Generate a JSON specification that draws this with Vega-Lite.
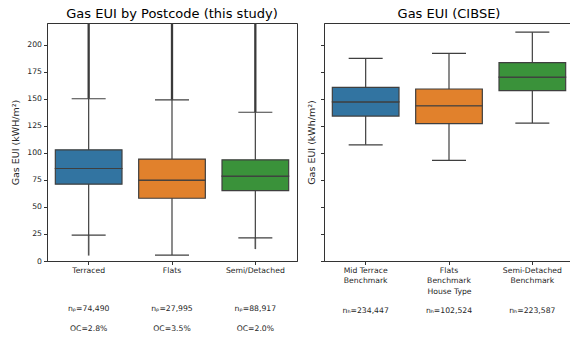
{
  "$schema": "https://vega.github.io/schema/vega-lite/v6.json",
  "padding": {"left": 10, "top": 7, "right": 0, "bottom": 0},
  "background": "white",
  "config": {
    "font": "DejaVu Sans",
    "view": {"stroke": "#333333", "strokeWidth": 1},
    "axis": {
      "grid": false,
      "domainColor": "#333333",
      "tickColor": "#333333",
      "labelColor": "#262626",
      "titleColor": "#262626",
      "labelFont": "DejaVu Sans",
      "titleFont": "DejaVu Sans",
      "labelFontSize": 7.7,
      "titleFontSize": 9.5,
      "titleFontWeight": "normal",
      "tickSize": 3.5,
      "labelPadding": 2,
      "labelOverlap": false
    },
    "title": {"fontSize": 13, "fontWeight": "normal", "color": "#000000", "font": "DejaVu Sans", "offset": 2}
  },
  "datasets": {
    "study": [
      {"type": "Terraced", "lower": 24, "q1": 71, "median": 85.5, "q3": 102.8, "upper": 150, "outLo": 5, "outHi": 240},
      {"type": "Flats", "lower": 5.5, "q1": 58, "median": 74.8, "q3": 94.2, "upper": 149, "outLo": 5.5, "outHi": 240},
      {"type": "Semi/Detached", "lower": 21.3, "q1": 65, "median": 78.5, "q3": 93.5, "upper": 137.5, "outLo": 11, "outHi": 240}
    ],
    "cibse": [
      {"type": "Mid Terrace Benchmark", "lower": 107.4, "q1": 134, "median": 147, "q3": 160.5, "upper": 187.3},
      {"type": "Flats Benchmark", "lower": 93, "q1": 127, "median": 143.5, "q3": 159, "upper": 192},
      {"type": "Semi-Detached Benchmark", "lower": 127.5, "q1": 157.4, "median": 170, "q3": 183.3, "upper": 211.5}
    ]
  },
  "spacing": 7,
  "hconcat": [
    {
      "title": "Gas EUI by Postcode (this study)",
      "width": 250,
      "height": 238,
      "data": {"name": "study"},
      "encoding": {
        "x": {
          "field": "type", "type": "nominal",
          "sort": ["Terraced", "Flats", "Semi/Detached"],
          "scale": {"type": "band", "paddingInner": 0, "paddingOuter": 0},
          "axis": {
            "title": null, "labelAngle": 0, "labelLineHeight": 19.2,
            "labelExpr": "datum.value == 'Terraced' ? ['Terraced', '\u2800', 'nₚ=74,490', 'OC=2.8%'] : datum.value == 'Flats' ? ['Flats', '\u2800', 'nₚ=27,995', 'OC=3.5%'] : ['Semi/Detached', '\u2800', 'nₚ=88,917', 'OC=2.0%']"
          }
        }
      },
      "layer": [
        {
          "mark": {"type": "rule", "clip": true, "color": "#3a3a3a", "strokeWidth": 2.3},
          "encoding": {
            "y": {"field": "upper", "type": "quantitative", "scale": {"domain": [0, 220], "nice": false, "zero": false},
              "axis": {"values": [0, 25, 50, 75, 100, 125, 150, 175, 200], "title": "Gas EUI (kWH/m²)", "titlePadding": 6}},
            "y2": {"field": "outHi"}
          }
        },
        {
          "mark": {"type": "rule", "clip": true, "color": "#555555", "strokeWidth": 1.6},
          "encoding": {"y": {"field": "outLo", "type": "quantitative", "scale": {"domain": [0, 220], "nice": false, "zero": false},
              "axis": {"values": [0, 25, 50, 75, 100, 125, 150, 175, 200], "title": "Gas EUI (kWH/m²)", "titlePadding": 6}}, "y2": {"field": "lower"}}
        },
        {
          "mark": {"type": "rule", "color": "#3f3f3f", "strokeWidth": 1.2},
          "encoding": {"y": {"field": "lower", "type": "quantitative", "scale": {"domain": [0, 220], "nice": false, "zero": false},
              "axis": {"values": [0, 25, 50, 75, 100, 125, 150, 175, 200], "title": "Gas EUI (kWH/m²)", "titlePadding": 6}}, "y2": {"field": "upper"}}
        },
        {
          "mark": {"type": "bar", "width": {"band": 0.8}, "stroke": "#3f3f3f", "strokeWidth": 1.2, "opacity": 1},
          "encoding": {
            "y": {"field": "q1", "type": "quantitative", "scale": {"domain": [0, 220], "nice": false, "zero": false},
              "axis": {"values": [0, 25, 50, 75, 100, 125, 150, 175, 200], "title": "Gas EUI (kWH/m²)", "titlePadding": 6}}, "y2": {"field": "median"},
            "color": {"field": "type", "type": "nominal", "legend": null,
              "scale": {"domain": ["Terraced", "Flats", "Semi/Detached"], "range": ["#3274a1", "#e1812c", "#3a923a"]}}
          }
        },
        {
          "mark": {"type": "bar", "width": {"band": 0.8}, "stroke": "#3f3f3f", "strokeWidth": 1.2, "opacity": 1},
          "encoding": {
            "y": {"field": "median", "type": "quantitative", "scale": {"domain": [0, 220], "nice": false, "zero": false},
              "axis": {"values": [0, 25, 50, 75, 100, 125, 150, 175, 200], "title": "Gas EUI (kWH/m²)", "titlePadding": 6}}, "y2": {"field": "q3"},
            "color": {"field": "type", "type": "nominal", "legend": null}
          }
        },
        {
          "mark": {"type": "tick", "size": 34, "thickness": 1.2, "color": "#3f3f3f", "opacity": 1},
          "encoding": {"y": {"field": "lower", "type": "quantitative", "scale": {"domain": [0, 220], "nice": false, "zero": false},
              "axis": {"values": [0, 25, 50, 75, 100, 125, 150, 175, 200], "title": "Gas EUI (kWH/m²)", "titlePadding": 6}}}
        },
        {
          "mark": {"type": "tick", "size": 34, "thickness": 1.2, "color": "#3f3f3f", "opacity": 1},
          "encoding": {"y": {"field": "upper", "type": "quantitative", "scale": {"domain": [0, 220], "nice": false, "zero": false},
              "axis": {"values": [0, 25, 50, 75, 100, 125, 150, 175, 200], "title": "Gas EUI (kWH/m²)", "titlePadding": 6}}}
        }
      ]
    },
    {
      "title": "Gas EUI (CIBSE)",
      "width": 250,
      "height": 238,
      "data": {"name": "cibse"},
      "resolve": {"axis": {"x": "independent"}},
      "encoding": {
        "x": {
          "field": "type", "type": "nominal",
          "sort": ["Mid Terrace Benchmark", "Flats Benchmark", "Semi-Detached Benchmark"],
          "scale": {"type": "band", "paddingInner": 0, "paddingOuter": 0},
          "axis": null
        }
      },
      "layer": [
        {
          "mark": {"type": "rule", "color": "#3f3f3f", "strokeWidth": 1.2},
          "encoding": {
            "x": {
              "field": "type", "type": "nominal",
              "sort": ["Mid Terrace Benchmark", "Flats Benchmark", "Semi-Detached Benchmark"],
              "scale": {"type": "band", "paddingInner": 0, "paddingOuter": 0},
              "axis": {
                "orient": "bottom", "title": "House Type", "titleY": 30, "titleBaseline": "middle", "labelAngle": 0, "labelLineHeight": 9.9, "titleFontSize": 7.7,
                "labelExpr": "datum.value == 'Mid Terrace Benchmark' ? ['Mid Terrace', 'Benchmark'] : datum.value == 'Flats Benchmark' ? ['Flats', 'Benchmark'] : ['Semi-Detached', 'Benchmark']"
              }
            },
            "y": {"field": "lower", "type": "quantitative", "scale": {"domain": [0, 220], "nice": false, "zero": false},
              "axis": {"values": [0, 25, 50, 75, 100, 125, 150, 175, 200], "labels": false, "title": "Gas EUI (kWh/m²)", "titlePadding": 4}},
            "y2": {"field": "upper"}
          }
        },
        {
          "mark": {"type": "bar", "width": {"band": 0.8}, "stroke": "#3f3f3f", "strokeWidth": 1.2, "opacity": 1},
          "encoding": {
            "y": {"field": "q1", "type": "quantitative", "scale": {"domain": [0, 220], "nice": false, "zero": false},
              "axis": {"values": [0, 25, 50, 75, 100, 125, 150, 175, 200], "labels": false, "title": "Gas EUI (kWh/m²)", "titlePadding": 4}}, "y2": {"field": "median"},
            "color": {"field": "type", "type": "nominal", "legend": null,
              "scale": {"domain": ["Mid Terrace Benchmark", "Flats Benchmark", "Semi-Detached Benchmark"], "range": ["#3274a1", "#e1812c", "#3a923a"]}}
          }
        },
        {
          "mark": {"type": "bar", "width": {"band": 0.8}, "stroke": "#3f3f3f", "strokeWidth": 1.2, "opacity": 1},
          "encoding": {
            "y": {"field": "median", "type": "quantitative", "scale": {"domain": [0, 220], "nice": false, "zero": false},
              "axis": {"values": [0, 25, 50, 75, 100, 125, 150, 175, 200], "labels": false, "title": "Gas EUI (kWh/m²)", "titlePadding": 4}}, "y2": {"field": "q3"},
            "color": {"field": "type", "type": "nominal", "legend": null}
          }
        },
        {
          "mark": {"type": "tick", "size": 34, "thickness": 1.2, "color": "#3f3f3f", "opacity": 1},
          "encoding": {
            "x": {
              "field": "type", "type": "nominal",
              "sort": ["Mid Terrace Benchmark", "Flats Benchmark", "Semi-Detached Benchmark"],
              "scale": {"type": "band", "paddingInner": 0, "paddingOuter": 0},
              "axis": {
                "orient": "bottom", "offset": 45, "title": null, "domain": false, "ticks": false, "labelPadding": 0, "labelAngle": 0,
                "labelExpr": "datum.value == 'Mid Terrace Benchmark' ? 'nₕ=234,447' : datum.value == 'Flats Benchmark' ? 'nₕ=102,524' : 'nₕ=223,587'"
              }
            },
            "y": {"field": "lower", "type": "quantitative", "scale": {"domain": [0, 220], "nice": false, "zero": false},
              "axis": {"values": [0, 25, 50, 75, 100, 125, 150, 175, 200], "labels": false, "title": "Gas EUI (kWh/m²)", "titlePadding": 4}}}
        },
        {
          "mark": {"type": "tick", "size": 34, "thickness": 1.2, "color": "#3f3f3f", "opacity": 1},
          "encoding": {"y": {"field": "upper", "type": "quantitative", "scale": {"domain": [0, 220], "nice": false, "zero": false},
              "axis": {"values": [0, 25, 50, 75, 100, 125, 150, 175, 200], "labels": false, "title": "Gas EUI (kWh/m²)", "titlePadding": 4}}}
        }
      ]
    }
  ]
}
